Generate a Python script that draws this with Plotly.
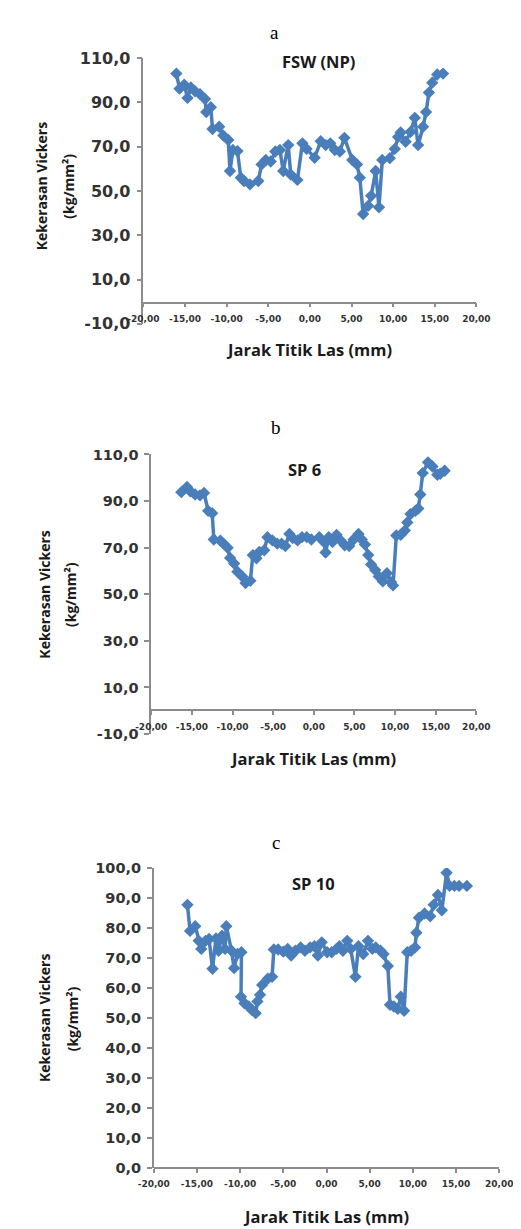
import plotly.graph_objects as go

# ---------------- data ----------------
x_a = [-16.04, -15.66, -15.1, -14.7, -14.3, -13.8, -13.2, -12.6, -12.45, -11.9, -11.7, -10.9, -10.4, -9.8,
       -9.6, -9.25, -8.7, -8.3, -7.9, -7.2, -6.2, -5.8, -5.3, -4.7, -4.15, -3.6, -3.2, -2.6, -2.3, -1.5,
       -0.9, -0.4, 0.57, 1.3, 1.9, 2.45, 3.0, 3.6, 4.15, 5.1, 5.66, 6.0, 6.4, 7.0, 7.36, 7.9, 8.3, 8.7,
       9.6, 10.2, 10.6, 10.9, 11.5, 12.1, 12.6, 13.0, 13.6, 13.96, 14.3, 14.7, 15.3, 16.0]
y_a = [103.0, 96.2, 98.0, 92.0, 96.7, 95.0, 93.7, 91.5, 85.6, 87.8, 78.0, 79.0, 75.0, 73.0,
       59.0, 68.5, 68.0, 56.0, 54.5, 53.0, 54.5, 62.0, 64.0, 63.3, 67.8, 68.5, 59.0, 70.7, 57.4, 55.0,
       71.5, 69.0, 65.0, 72.5, 70.7, 71.5, 68.5, 67.8, 74.0, 64.0, 62.0, 56.0, 39.6, 43.3, 47.8, 59.0, 42.6, 64.0,
       64.8, 69.0, 74.4, 76.4, 72.2, 76.7, 83.0, 70.7, 79.0, 85.6, 94.4, 98.9, 102.6, 103.0]

x_b = [-16.3, -15.6, -15.2, -14.6, -14.0, -13.5, -13.0, -12.5, -12.3, -11.5, -11.1, -10.6, -10.3, -9.8,
       -9.4, -8.8, -8.4, -7.8, -7.5, -7.05, -6.7, -6.1, -5.7, -5.1, -4.5, -3.96, -3.5, -3.0, -2.6, -2.0,
       -1.45, -0.87, -0.3, 0.68, 1.26, 1.45, 1.84, 2.3, 2.8, 3.3, 3.8, 4.35, 4.9, 5.5, 5.9, 6.3, 6.7,
       7.05, 7.55, 8.0, 8.5, 9.0, 9.5, 9.75, 10.15, 10.7, 11.2, 11.5, 11.9, 12.5, 12.85, 13.1, 13.4,
       14.05, 14.6, 15.2, 15.55, 16.1]
y_b = [93.8, 96.0, 94.2, 92.8, 92.4, 93.5, 85.8, 84.8, 73.5, 73.0, 71.7, 69.9, 65.6, 63.2,
       59.7, 57.6, 54.8, 55.8, 66.8, 65.4, 68.2, 68.9, 74.5, 73.1, 71.7, 71.7, 70.7, 75.9, 74.1, 73.1,
       74.5, 74.5, 73.5, 74.5, 72.4, 67.9, 74.5, 72.4, 75.5, 73.1, 71.0, 70.7, 73.5, 75.9, 73.5, 71.3, 66.8,
       62.8, 60.4, 57.6, 55.5, 59.0, 55.2, 53.8, 75.2, 75.5, 77.3, 80.8, 84.4, 85.8, 86.8, 92.8, 102.0,
       106.6, 104.8, 101.3, 101.7, 103.0]

x_c = [-16.1, -15.8, -15.2, -14.8, -14.5, -14.0, -13.6, -13.2, -12.8, -12.5, -12.1, -11.75, -11.6, -11.0,
       -10.7, -10.3, -9.85, -9.9, -9.5, -9.0, -8.65, -8.2, -8.0, -7.7, -7.45, -6.8, -6.3, -6.1, -5.6,
       -5.0, -4.5, -4.1, -3.6, -3.0, -2.5, -1.9, -1.4, -1.0, -0.55, 0.07, 0.6, 1.16, 1.5, 1.9, 2.4, 2.8,
       3.35, 3.7, 4.25, 4.8, 5.3, 5.7, 6.25, 6.6, 7.1, 7.35, 7.8, 8.25, 8.6, 8.98, 9.35, 9.8, 10.25,
       10.4, 10.7, 11.35, 12.0, 12.4, 12.9, 13.35, 13.9, 14.25, 14.8, 15.35, 16.25]
y_c = [87.7, 79.0, 80.6, 75.7, 73.0, 75.7, 76.3, 66.4, 76.5, 72.4, 77.4, 73.0, 80.6, 72.4,
       66.6, 71.3, 71.9, 57.1, 54.9, 53.8, 52.7, 51.6, 55.5, 57.7, 61.0, 63.1, 63.7, 72.8, 72.8,
       72.1, 73.0, 70.8, 72.4, 73.5, 72.4, 73.5, 73.9, 70.8, 75.2, 71.9, 71.9, 73.0, 73.9, 72.4, 75.7, 73.0,
       63.7, 73.9, 71.3, 75.7, 73.0, 73.5, 72.4, 71.3, 67.3, 54.4, 53.8, 53.0, 57.1, 52.4, 71.9, 72.4, 73.5,
       78.4, 83.4, 84.8, 83.9, 87.7, 91.0, 85.9, 98.4, 94.0, 94.0, 94.0, 94.0]

x_ticks = [-20, -15, -10, -5, 0, 5, 10, 15, 20]
x_ticktext = ["-20,00", "-15,00", "-10,00", "-5,00", "0,00", "5,00", "10,00", "15,00", "20,00"]
y_ticks_ab = [-10, 10, 30, 50, 70, 90, 110]
y_ticktext_ab = ["-10,0", "10,0", "30,0", "50,0", "70,0", "90,0", "110,0"]
y_ticks_c = [0, 10, 20, 30, 40, 50, 60, 70, 80, 90, 100]
y_ticktext_c = ["0,0", "10,0", "20,0", "30,0", "40,0", "50,0", "60,0", "70,0", "80,0", "90,0", "100,0"]

panel_labels = ["a", "b", "c"]
panel_titles = ["FSW (NP)", "SP 6", "SP 10"]
x_title = "Jarak Titik Las (mm)"
y_title_1 = "Kekerasan Vickers"
y_title_2 = "(kg/mm²)"

# ---------------- layout helpers ----------------
W, H = 521, 1229
BLUE = "#4a7ebb"
AXIS = "#8c8c8c"
TXT = "#1a1a1a"


def fx(px):
    return px / W


def fy(py):
    return (H - py) / H


fig = go.Figure()
for i, (xs, ys) in enumerate([(x_a, y_a), (x_b, y_b), (x_c, y_c)]):
    suffix = "" if i == 0 else str(i + 1)
    fig.add_trace(go.Scatter(
        x=xs, y=ys, mode="lines+markers",
        xaxis="x" + suffix, yaxis="y" + suffix,
        line=dict(color=BLUE, width=3.5),
        marker=dict(symbol="diamond", size=9.5, color=BLUE),
        showlegend=False, hoverinfo="skip"))

panels = [
    dict(x0=126.7, x1=480.0, yt=41.7, yb=311.7, xax=290.0, yr=[-10, 110], yt_vals=y_ticks_ab, yt_text=y_ticktext_ab, yfs=16),
    dict(x0=135.0, x1=480.0, yt=444.3, yb=728.3, xax=704.0, yr=[-10, 110], yt_vals=y_ticks_ab, yt_text=y_ticktext_ab, yfs=14.5),
    dict(x0=137.7, x1=504.3, yt=864.3, yb=1169.0, xax=1169.0, yr=[0, 100], yt_vals=y_ticks_c, yt_text=y_ticktext_c, yfs=14.5),
]

layout = dict(
    width=W, height=H,
    margin=dict(l=0, r=0, t=0, b=0),
    paper_bgcolor="white", plot_bgcolor="white",
    showlegend=False,
)
tickfont_x = dict(family="DejaVu Sans", size=9, color="#333333", weight="bold")
for i, p in enumerate(panels):
    suffix = "" if i == 0 else str(i + 1)
    layout["xaxis" + suffix] = dict(
        domain=[fx(p["x0"]), fx(p["x1"])], range=[-20, 20],
        anchor="free", position=fy(p["xax"]),
        showline=True, linecolor=AXIS, linewidth=1.5,
        ticks="outside", ticklen=4, tickcolor=AXIS, tickwidth=1.5,
        tickvals=x_ticks, ticktext=x_ticktext, tickfont=tickfont_x,
        ticklabelstandoff=4,
        showgrid=False, zeroline=False, fixedrange=True,
    )
    layout["yaxis" + suffix] = dict(
        domain=[fy(p["yb"]), fy(p["yt"])], range=p["yr"],
        anchor="x" + suffix,
        showline=True, linecolor=AXIS, linewidth=1.5,
        ticks="outside", ticklen=5, tickcolor=AXIS, tickwidth=1.5,
        tickvals=p["yt_vals"], ticktext=p["yt_text"],
        tickfont=dict(family="DejaVu Sans", size=p["yfs"], color="#333333", weight="bold"),
        ticklabelstandoff=3,
        showgrid=False, zeroline=False, fixedrange=True,
    )
fig.update_layout(**layout)

# ---------------- text ----------------
label_pos = [(266, 16), (267, 417), (267, 838)]
title_pos = [(312, 45), (298, 460), (307, 880)]
xtitle_pos = [(302, 338), (307, 753), (320, 1218)]
ytitle1_pos = [(18, 172), (22, 587), (21, 1017)]
ytitle2_pos = [(47, 172), (50, 587), (51, 1018)]

for i in range(3):
    fig.add_annotation(text=panel_labels[i], x=fx(label_pos[i][0]), y=fy(label_pos[i][1]),
                       xref="paper", yref="paper", showarrow=False, xanchor="center", yanchor="middle",
                       font=dict(family="Liberation Serif", size=19, color="#000000"))
    fig.add_annotation(text=panel_titles[i], x=fx(title_pos[i][0]), y=fy(title_pos[i][1]),
                       xref="paper", yref="paper", showarrow=False, xanchor="center", yanchor="middle",
                       font=dict(family="Open Sans", size=16.5, color=TXT, weight="bold"))
    fig.add_annotation(text=x_title, x=fx(xtitle_pos[i][0]), y=fy(xtitle_pos[i][1]),
                       xref="paper", yref="paper", showarrow=False, xanchor="center", yanchor="middle",
                       font=dict(family="Open Sans", size=16.5, color=TXT, weight="bold"))
    fig.add_annotation(text=y_title_1, x=fx(ytitle1_pos[i][0]), y=fy(ytitle1_pos[i][1]),
                       xref="paper", yref="paper", showarrow=False, xanchor="center", yanchor="middle",
                       textangle=-90,
                       font=dict(family="Open Sans", size=14, color=TXT, weight="bold"))
    fig.add_annotation(text=y_title_2, x=fx(ytitle2_pos[i][0]), y=fy(ytitle2_pos[i][1]),
                       xref="paper", yref="paper", showarrow=False, xanchor="center", yanchor="middle",
                       textangle=-90,
                       font=dict(family="Open Sans", size=14, color=TXT, weight="bold"))

fig.write_html("out.html", config=dict(displayModeBar=False))
